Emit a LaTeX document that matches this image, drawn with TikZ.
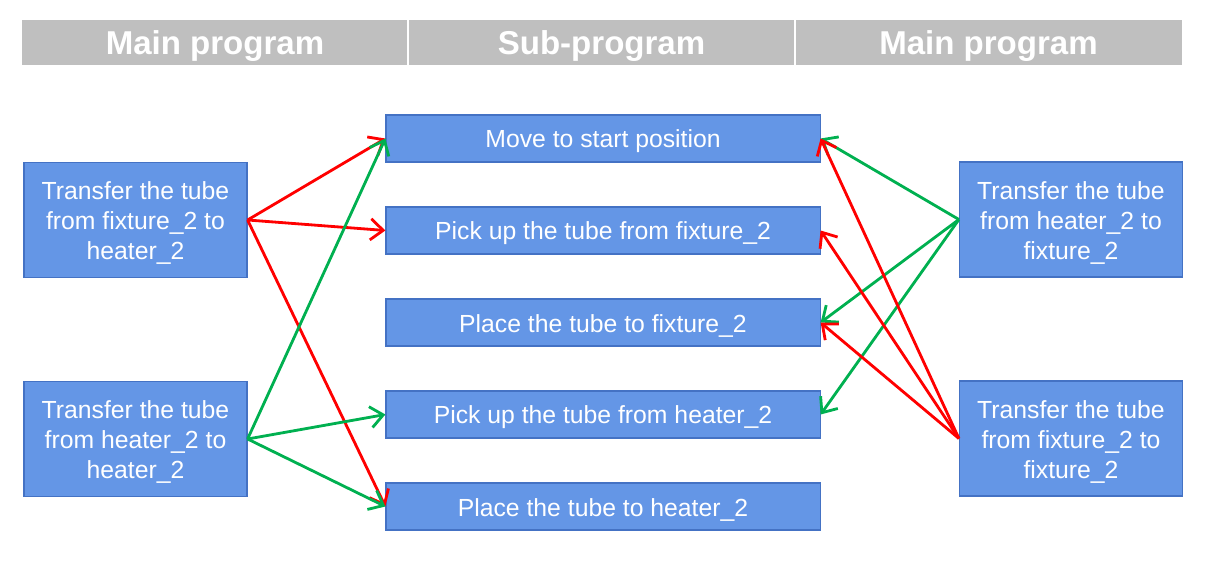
\documentclass[tikz,border=0pt]{standalone}
\usepackage{fontspec}
\setmainfont{Liberation Sans}
\usetikzlibrary{arrows.meta}
\definecolor{hdr}{HTML}{BFBFBF}
\definecolor{boxfill}{HTML}{6496E6}
\definecolor{boxline}{HTML}{4472C4}
\definecolor{arrred}{HTML}{FF0000}
\definecolor{arrgreen}{HTML}{00B050}
\tikzset{
  hdrcell/.style={fill=hdr, draw=white, line width=0.8pt, minimum width=9.675cm, minimum height=1.175cm, inner sep=0pt},
  hdrlbl/.style={text=white, font=\fontsize{23.5}{28}\selectfont\bfseries, yshift=-2.6pt, inner sep=0pt},
  sidebox/.style={fill=boxfill, draw=boxline, line width=0.8pt, minimum width=5.575cm, minimum height=2.875cm, inner sep=0pt},
  midbox/.style={fill=boxfill, draw=boxline, line width=0.8pt, minimum width=10.85cm, minimum height=1.175cm, inner sep=0pt},
  boxlbl/.style={text=white, align=center, font=\fontsize{17.6}{21.3}\selectfont, yshift=-2.2pt, inner sep=0pt},
  conn/.style={line width=2pt, -{Straight Barb[length=9pt,width=15pt,line width=2pt]}},
  redc/.style={conn, draw=arrred},
  greenc/.style={conn, draw=arrgreen},
}
\begin{document}
\begin{tikzpicture}[x=0.025cm, y=-0.025cm]
\useasboundingbox (0,0) rectangle (1217,571);
% header
\node[hdrcell, label={[hdrlbl]center:Main program}] (h1) at (215,42.5) {};
\node[hdrcell, label={[hdrlbl]center:Sub-program}] (h2) at (601.5,42.5) {};
\node[hdrcell, label={[hdrlbl]center:Main program}] (h3) at (988.5,42.5) {};
% side boxes
\node[sidebox, label={[boxlbl]center:{Transfer the tube\\from fixture\_2 to\\heater\_2}}] (L1) at (135.5,220) {};
\node[sidebox, label={[boxlbl]center:{Transfer the tube\\from heater\_2 to\\heater\_2}}] (L2) at (135.5,439) {};
\node[sidebox, label={[boxlbl]center:{Transfer the tube\\from heater\_2 to\\fixture\_2}}] (R1) at (1071,219.5) {};
\node[sidebox, label={[boxlbl]center:{Transfer the tube\\from fixture\_2 to\\fixture\_2}}] (R2) at (1071,438.5) {};
% middle boxes
\node[midbox, label={[boxlbl]center:Move to start position}] (M1) at (603,138.5) {};
\node[midbox, label={[boxlbl]center:Pick up the tube from fixture\_2}] (M2) at (603,230.5) {};
\node[midbox, label={[boxlbl]center:Place the tube to fixture\_2}] (M3) at (603,322.5) {};
\node[midbox, label={[boxlbl]center:Pick up the tube from heater\_2}] (M4) at (603,414.5) {};
\node[midbox, label={[boxlbl]center:Place the tube to heater\_2}] (M5) at (603,506.5) {};
% connectors from left
\draw[redc] (L1.east) -- (M1.west);
\draw[redc] (L1.east) -- (M2.west);
\draw[redc] (L1.east) -- (M5.west);
\draw[greenc] (L2.east) -- (M1.west);
\draw[greenc] (L2.east) -- (M4.west);
\draw[greenc] (L2.east) -- (M5.west);
% connectors from right
\draw[greenc] (R1.west) -- (M1.east);
\draw[greenc] (R1.west) -- (M3.east);
\draw[greenc] (R1.west) -- (M4.east);
\draw[redc] (R2.west) -- (M1.east);
\draw[redc] (R2.west) -- (M2.east);
\draw[redc] (R2.west) -- (M3.east);
\end{tikzpicture}
\end{document}
